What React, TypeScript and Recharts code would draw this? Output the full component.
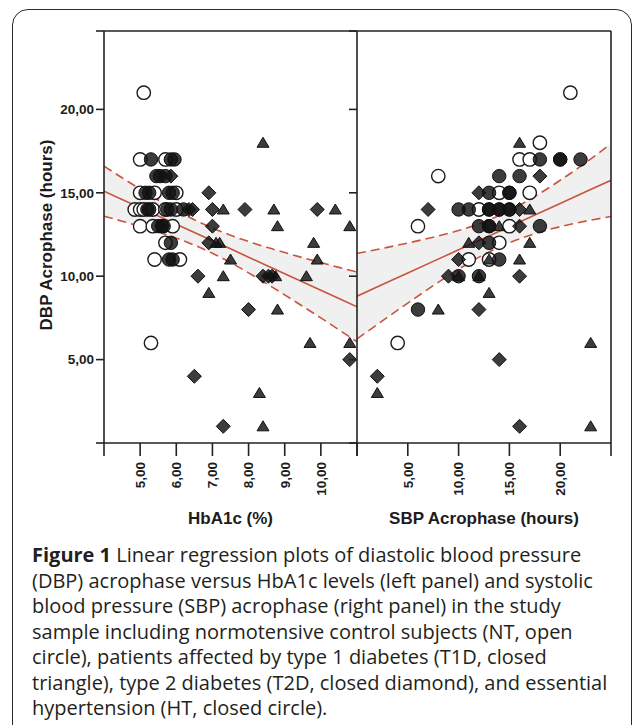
import { ComposedChart, Scatter, Line, Area, XAxis, YAxis, ReferenceLine } from "recharts";

// DBP acrophase (hours) vs HbA1c (%) — left panel
const leftNT = [
  { x: 5.1, y: 21 }, { x: 5.0, y: 17 }, { x: 5.7, y: 17 }, { x: 5.0, y: 15 }, { x: 5.4, y: 15 },
  { x: 6.0, y: 15 }, { x: 4.85, y: 14 }, { x: 5.0, y: 14 }, { x: 5.1, y: 14 }, { x: 5.35, y: 14 },
  { x: 5.7, y: 14 }, { x: 6.0, y: 14 }, { x: 5.0, y: 13 }, { x: 5.35, y: 13 }, { x: 5.9, y: 13 },
  { x: 5.7, y: 12 }, { x: 5.4, y: 11 }, { x: 6.1, y: 11 }, { x: 5.3, y: 6 },
];
const leftHT = [
  { x: 5.3, y: 17 }, { x: 5.85, y: 17 }, { x: 5.95, y: 17 }, { x: 5.45, y: 16 }, { x: 5.55, y: 16 },
  { x: 5.7, y: 16 }, { x: 5.15, y: 15 }, { x: 5.25, y: 15 }, { x: 5.8, y: 15 }, { x: 5.9, y: 15 },
  { x: 5.2, y: 14 }, { x: 5.25, y: 14 }, { x: 5.75, y: 14 }, { x: 5.85, y: 14 }, { x: 6.2, y: 14 },
  { x: 5.5, y: 13 }, { x: 5.6, y: 13 }, { x: 5.65, y: 13 }, { x: 5.85, y: 12 }, { x: 5.8, y: 11 },
  { x: 5.9, y: 11 },
];
const leftT2D = [
  { x: 5.85, y: 16 }, { x: 6.9, y: 15 }, { x: 6.35, y: 14 }, { x: 6.45, y: 14 }, { x: 7.0, y: 14 },
  { x: 7.9, y: 14 }, { x: 9.9, y: 14 }, { x: 7.0, y: 13 }, { x: 6.9, y: 12 }, { x: 6.6, y: 10 },
  { x: 8.4, y: 10 }, { x: 8.55, y: 10 }, { x: 8.65, y: 10 }, { x: 8.0, y: 8 }, { x: 10.8, y: 5 },
  { x: 6.5, y: 4 }, { x: 7.3, y: 1 },
];
const leftT1D = [
  { x: 8.4, y: 18 }, { x: 7.3, y: 14 }, { x: 8.7, y: 14 }, { x: 10.4, y: 14 }, { x: 8.8, y: 13 },
  { x: 10.8, y: 13 }, { x: 7.1, y: 12 }, { x: 7.2, y: 12 }, { x: 9.8, y: 12 }, { x: 7.5, y: 11 },
  { x: 9.9, y: 11 }, { x: 7.3, y: 10 }, { x: 8.75, y: 10 }, { x: 9.6, y: 10 }, { x: 6.9, y: 9 },
  { x: 8.8, y: 8 }, { x: 9.7, y: 6 }, { x: 10.8, y: 6 }, { x: 8.3, y: 3 }, { x: 8.4, y: 1 },
];

// DBP acrophase vs SBP acrophase (hours) — right panel
const rightNT = [
  { x: 21, y: 21 }, { x: 18, y: 18 }, { x: 16, y: 17 }, { x: 17, y: 17 }, { x: 8, y: 16 },
  { x: 14, y: 15 }, { x: 17, y: 15 }, { x: 12, y: 14 }, { x: 6, y: 13 }, { x: 15, y: 13 },
  { x: 14, y: 12 }, { x: 11, y: 11 }, { x: 13, y: 11 }, { x: 4, y: 6 },
];
const rightHT = [
  { x: 18, y: 17 }, { x: 20, y: 17 }, { x: 20, y: 17 }, { x: 22, y: 17 }, { x: 14, y: 16 },
  { x: 16, y: 16 }, { x: 13, y: 15 }, { x: 15, y: 15 }, { x: 15, y: 15 }, { x: 10, y: 14 },
  { x: 11, y: 14 }, { x: 13, y: 14 }, { x: 13, y: 14 }, { x: 14, y: 14 }, { x: 14, y: 14 },
  { x: 15, y: 14 }, { x: 15, y: 14 }, { x: 12, y: 13 }, { x: 13, y: 13 }, { x: 13, y: 13 },
  { x: 18, y: 13 }, { x: 13, y: 12 }, { x: 14, y: 11 }, { x: 10, y: 10 }, { x: 12, y: 10 },
  { x: 6, y: 8 },
];
const rightT2D = [
  { x: 18, y: 16 }, { x: 12, y: 15 }, { x: 7, y: 14 }, { x: 16, y: 14 }, { x: 16, y: 13 },
  { x: 12, y: 12 }, { x: 10, y: 11 }, { x: 9, y: 10 }, { x: 16, y: 10 }, { x: 12, y: 8 },
  { x: 14, y: 5 }, { x: 2, y: 4 }, { x: 16, y: 1 },
];
const rightT1D = [
  { x: 16, y: 18 }, { x: 17, y: 14 }, { x: 14, y: 13 }, { x: 11, y: 12 }, { x: 17, y: 12 },
  { x: 13, y: 11 }, { x: 16, y: 11 }, { x: 10, y: 10 }, { x: 12, y: 10 }, { x: 13, y: 9 },
  { x: 8, y: 8 }, { x: 23, y: 6 }, { x: 2, y: 3 }, { x: 23, y: 1 },
];

// regression line and 95% CI
const leftFitX = [4, 4.5, 5, 5.5, 6, 6.5, 7, 7.5, 8, 8.5, 9, 9.5, 10, 10.5, 11];
const leftFit = [15.1, 14.6, 14.11, 13.61, 13.12, 12.62, 12.13, 11.64, 11.14, 10.64, 10.15, 9.65, 9.16, 8.66, 8.16];
const leftHi = [16.6, 15.9, 15.23, 14.57, 13.96, 13.38, 12.89, 12.46, 12.08, 11.73, 11.42, 11.11, 10.82, 10.53, 10.25];
const leftLo = [13.6, 13.3, 12.99, 12.65, 12.28, 11.86, 11.37, 10.82, 10.2, 9.55, 8.88, 8.19, 7.5, 6.79, 6.07];

const rightFitX = [0, 2.5, 5, 7.5, 10, 12.5, 15, 17.5, 20, 22.5, 25];
const rightFit = [8.8, 9.5, 10.19, 10.89, 11.58, 12.28, 12.97, 13.67, 14.36, 15.06, 15.75];
const rightHi = [11.36, 11.67, 11.99, 12.34, 12.74, 13.25, 13.93, 14.78, 15.75, 16.8, 17.95];
const rightLo = [6.24, 7.32, 8.39, 9.43, 10.42, 11.3, 12.01, 12.55, 12.97, 13.3, 13.58];

const yTicks = [0, 5, 10, 15, 20, 24.7];
const yLabelled = [5, 10, 15, 20];
const leftXTicks = [4, 5, 6, 7, 8, 9, 10, 11];
const leftXLabelled = [5, 6, 7, 8, 9, 10];
const rightXTicks = [0, 5, 10, 15, 20, 25];
const rightXLabelled = [5, 10, 15, 20];

const Y_MAX = 24.7;
const FONT = "'Liberation Sans', Arial, Helvetica, sans-serif";
const INK = "#1c1c1c";
const FIT = "#c9553d";
const AXIS = "#222";

const comma = (v: number) => v.toFixed(2).replace(".", ",");

const band = (xs: number[], fit: number[], hi: number[], lo: number[]) =>
  xs.map((x, i) => ({ x, fit: fit[i], hi: hi[i], lo: lo[i], range: [lo[i], hi[i]] }));

const openCircle = (p: any) => (
  <circle cx={p.cx} cy={p.cy} r={6.7} fill="#fff" stroke={INK} strokeWidth={1.4} />
);
const filledCircle = (p: any) => (
  <circle cx={p.cx} cy={p.cy} r={6.7} fill="#111" fillOpacity={0.82} stroke="#111" strokeWidth={1} />
);
const diamond = (p: any) => {
  const { cx, cy } = p;
  const d = 7;
  return (
    <polygon
      points={`${cx},${cy - d} ${cx + d},${cy} ${cx},${cy + d} ${cx - d},${cy}`}
      fill="#111" fillOpacity={0.82} stroke="#111" strokeWidth={1}
    />
  );
};
const triangle = (p: any) => {
  const { cx, cy } = p;
  return (
    <polygon
      points={`${cx},${cy - 5.5} ${cx + 6},${cy + 4.5} ${cx - 6},${cy + 4.5}`}
      fill="#111" fillOpacity={0.82} stroke="#111" strokeWidth={1}
    />
  );
};

const makeXTick = (labelled: number[]) => (props: any) => {
  const { x, y, payload } = props;
  if (!labelled.includes(payload.value)) return <g />;
  return (
    <g transform={`translate(${x},${y + 4})`}>
      <text
        transform="rotate(-90)"
        textAnchor="end"
        dy="0.36em"
        fontFamily={FONT}
        fontSize={13.5}
        fontWeight="bold"
        fill={INK}
      >
        {comma(payload.value)}
      </text>
    </g>
  );
};

const xTitle = (text: string, cx: number) => () => (
  <text x={cx} y={524} textAnchor="middle" fontFamily={FONT} fontSize={17} fontWeight="bold" fill={INK}>
    {text}
  </text>
);

const yTitle = () => (
  <text
    x={0}
    y={0}
    transform="translate(52,235) rotate(-90)"
    textAnchor="middle"
    fontFamily={FONT}
    fontSize={17}
    fontWeight="bold"
    fill={INK}
  >
    DBP Acrophase (hours)
  </text>
);

type PanelProps = {
  width: number;
  right: number;
  yAxisWidth: number;
  domain: [number, number];
  xTicks: number[];
  xLabelled: number[];
  title: string;
  titleX: number;
  fitData: any[];
  nt: any[];
  ht: any[];
  t2d: any[];
  t1d: any[];
  showYLabels: boolean;
  rightBorder: boolean;
};

const Panel = (p: PanelProps) => (
  <div style={{ position: "absolute", left: 0, top: 0 }}>
    <ComposedChart
      width={p.width}
      height={540}
      data={p.fitData}
      margin={{ top: 31, right: p.right, bottom: 0, left: 0 }}
    >
      <XAxis
        type="number"
        dataKey="x"
        domain={p.domain}
        ticks={p.xTicks}
        interval={0}
        allowDataOverflow
        height={97}
        tickSize={13}
        stroke={AXIS}
        axisLine={{ stroke: AXIS, strokeWidth: 1.6 }}
        tickLine={{ stroke: AXIS, strokeWidth: 1.6 }}
        tick={makeXTick(p.xLabelled)}
        label={{ content: xTitle(p.title, p.titleX) }}
      />
      <YAxis
        type="number"
        domain={[0, Y_MAX]}
        ticks={yTicks}
        interval={0}
        allowDataOverflow
        width={p.yAxisWidth}
        tickSize={8}
        axisLine={{ stroke: AXIS, strokeWidth: 1.6 }}
        tickLine={{ stroke: AXIS, strokeWidth: 1.6 }}
        tick={{ fontFamily: FONT, fontSize: 13.5, fontWeight: "bold", fill: INK }}
        tickFormatter={(v: number) => (p.showYLabels && yLabelled.includes(v) ? comma(v) : "")}
        label={p.showYLabels ? { content: yTitle } : undefined}
      />
      <Area
        dataKey="range"
        type="monotone"
        fill="#f0f0f0"
        fillOpacity={1}
        stroke="none"
        isAnimationActive={false}
      />
      <Scatter data={p.nt} dataKey="y" shape={openCircle} isAnimationActive={false} />
      <Scatter data={p.ht} dataKey="y" shape={filledCircle} isAnimationActive={false} />
      <Scatter data={p.t2d} dataKey="y" shape={diamond} isAnimationActive={false} />
      <Scatter data={p.t1d} dataKey="y" shape={triangle} isAnimationActive={false} />
      <Line dataKey="hi" type="monotone" stroke={FIT} strokeWidth={1.6} strokeDasharray="9 5" dot={false} isAnimationActive={false} />
      <Line dataKey="lo" type="monotone" stroke={FIT} strokeWidth={1.6} strokeDasharray="9 5" dot={false} isAnimationActive={false} />
      <Line dataKey="fit" type="linear" stroke={FIT} strokeWidth={1.6} dot={false} isAnimationActive={false} />
      <ReferenceLine y={Y_MAX} stroke={AXIS} strokeWidth={1.6} />
      {p.rightBorder && <ReferenceLine x={p.domain[1]} stroke={AXIS} strokeWidth={1.6} />}
    </ComposedChart>
  </div>
);

const captionLines = [
  "(DBP) acrophase versus HbA1c levels (left panel) and systolic",
  "blood pressure (SBP) acrophase (right panel) in the study",
  "sample including normotensive control subjects (NT, open",
  "circle), patients affected by type 1 diabetes (T1D, closed",
  "triangle), type 2 diabetes (T2D, closed diamond), and essential",
  "hypertension (HT, closed circle).",
];

export default function App() {
  return (
    <div
      style={{
        position: "absolute",
        left: 0,
        top: 0,
        width: 633,
        height: 725,
        overflow: "hidden",
        background: "#fff",
      }}
    >
      <div
        style={{
          position: "absolute",
          left: 12,
          top: 9,
          width: 620,
          height: 760,
          border: "1.6px solid #2a2a2a",
          borderRadius: 16,
          boxSizing: "border-box",
        }}
      />
      <Panel
        width={360}
        right={3}
        yAxisWidth={104}
        domain={[4, 11]}
        xTicks={leftXTicks}
        xLabelled={leftXLabelled}
        title="HbA1c (%)"
        titleX={230.5}
        fitData={band(leftFitX, leftFit, leftHi, leftLo)}
        nt={leftNT}
        ht={leftHT}
        t2d={leftT2D}
        t1d={leftT1D}
        showYLabels
        rightBorder={false}
      />
      <Panel
        width={633}
        right={22}
        yAxisWidth={357}
        domain={[0, 25]}
        xTicks={rightXTicks}
        xLabelled={rightXLabelled}
        title="SBP Acrophase (hours)"
        titleX={484}
        fitData={band(rightFitX, rightFit, rightHi, rightLo)}
        nt={rightNT}
        ht={rightHT}
        t2d={rightT2D}
        t1d={rightT1D}
        showYLabels={false}
        rightBorder
      />
      <div
        style={{
          position: "absolute",
          left: 32,
          top: 542,
          width: 600,
          fontFamily: "'Open Sans', Lato, sans-serif",
          fontSize: 20,
          lineHeight: "25.5px",
          color: "#231f20",
          whiteSpace: "nowrap",
        }}
      >
        <div>
          <b>Figure 1</b> Linear regression plots of diastolic blood pressure
        </div>
        {captionLines.map((l) => (
          <div key={l}>{l}</div>
        ))}
      </div>
    </div>
  );
}
